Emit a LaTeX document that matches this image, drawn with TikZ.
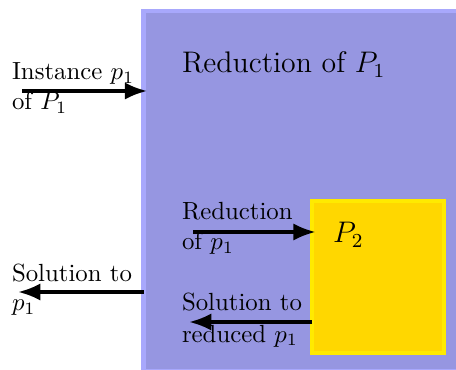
\documentclass[tikz,border=0pt]{standalone}
\usetikzlibrary{arrows.meta,fit}
\definecolor{bigfill}{RGB}{150,150,225}
\definecolor{bigedge}{RGB}{168,168,252}
\definecolor{goldfill}{RGB}{255,215,0}
\definecolor{goldedge}{RGB}{255,234,0}
\tikzset{
  lbl/.style={anchor=base west, inner sep=0pt, outer sep=0pt},
  conn/.style={line width=1.5pt, -{Latex[length=9pt,width=7pt]}},
}
\begin{document}
\begin{tikzpicture}[x=0.403pt, y=-0.403pt]
\useasboundingbox (0,0) rectangle (456,370);
% big box
\node[fit={(143.5,11) (462,371)}, inner sep=0pt, outer sep=0pt, draw=bigedge, fill=bigfill, line width=2pt] (P1box) {};
% yellow box
\node[fit={(312,201) (444,353)}, inner sep=0pt, outer sep=0pt, draw=goldedge, fill=goldfill, line width=1.6pt] (P2box) {};
% labels
\node[lbl] (t1a) at (12,80) {Instance $p_1$};
\node[lbl] (t1b) at (12,110) {of $P_1$};
\node[lbl] (t2a) at (12,282) {Solution to};
\node[lbl] (t2b) at (12,311) {$p_1$};
\node[lbl] (t3a) at (182,220) {Reduction};
\node[lbl] (t3b) at (182,250) {of $p_1$};
\node[lbl] (t4a) at (182,311) {Solution to};
\node[lbl] (t4b) at (182,342) {reduced $p_1$};
\node[lbl, font=\large] (title) at (182,73) {Reduction of $P_1$};
\node[lbl, font=\large] (p2) at (333,243) {$P_2$};
% connector ends
\coordinate (c1) at (22,91);
\coordinate (c2) at (18,292);
\coordinate (c3) at (193,232);
\coordinate (c4) at (189,322);
\draw[conn, shorten >=-1.5pt] (c1) -- (c1 -| P1box.west);
\draw[conn] (c2 -| P1box.west) -- (c2);
\draw[conn, shorten >=-1.5pt] (c3) -- (c3 -| P2box.west);
\draw[conn] (c4 -| P2box.west) -- (c4);
\end{tikzpicture}
\end{document}
